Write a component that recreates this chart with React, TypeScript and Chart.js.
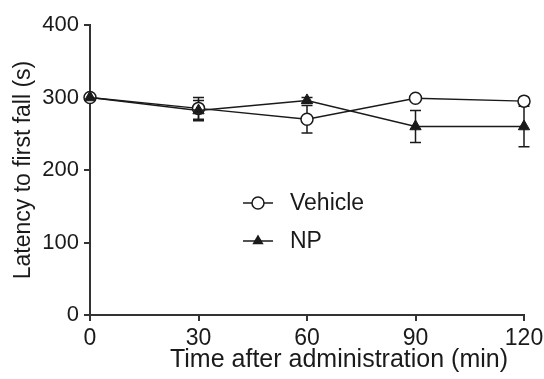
import React, { useEffect, useRef } from "react";
import { Chart, registerables } from "chart.js";

Chart.register(...registerables);

const times = [0, 30, 60, 90, 120];
const vehicleMean = [300, 285, 270, 299, 295];
const vehicleErr = [0, 15, 19, 3, 2];
const npMean = [300, 282, 296, 260, 260];
const npErr = [0, 14, 4, 22, 28];
const xTicks = [0, 30, 60, 90, 120];
const yTicks = [0, 100, 200, 300, 400];
const xTitle = "Time after administration (min)";
const yTitle = "Latency to first fall (s)";
const legendLabels = ["Vehicle", "NP"];

const FONT = "'Liberation Sans', Arial, sans-serif";
const INK = "#1a1a1a";
const AXIS = "#333333";

const errorBarPlugin = {
  id: "errorBars",
  beforeDatasetsDraw(chart: any) {
    const ctx = chart.ctx;
    const xs = chart.scales.x;
    const ys = chart.scales.y;
    ctx.save();
    ctx.strokeStyle = INK;
    ctx.lineWidth = 1.5;
    chart.data.datasets.forEach((ds: any) => {
      const errs: number[] = ds.errors || [];
      ds.data.forEach((pt: any, i: number) => {
        const e = errs[i] || 0;
        if (!e) return;
        const x = xs.getPixelForValue(pt.x);
        const yTop = ys.getPixelForValue(pt.y + e);
        const yBot = ys.getPixelForValue(pt.y - e);
        ctx.beginPath();
        ctx.moveTo(x, yTop);
        ctx.lineTo(x, yBot);
        ctx.moveTo(x - 5.5, yTop);
        ctx.lineTo(x + 5.5, yTop);
        ctx.moveTo(x - 5.5, yBot);
        ctx.lineTo(x + 5.5, yBot);
        ctx.stroke();
      });
    });
    ctx.restore();
  },
};

const xTitlePlugin = {
  id: "xTitle",
  afterDraw(chart: any) {
    const ctx = chart.ctx;
    ctx.save();
    ctx.fillStyle = INK;
    ctx.font = `25px ${FONT}`;
    ctx.textAlign = "center";
    ctx.textBaseline = "middle";
    ctx.fillText(xTitle, 339, 360);
    ctx.restore();
  },
};

const legendPlugin = {
  id: "inlineLegend",
  afterDraw(chart: any) {
    const ctx = chart.ctx;
    ctx.save();
    const rows = [
      { y: 203, style: "circle" },
      { y: 241, style: "triangle" },
    ];
    rows.forEach((r, i) => {
      ctx.strokeStyle = INK;
      ctx.lineWidth = 1.5;
      ctx.beginPath();
      ctx.moveTo(243, r.y);
      ctx.lineTo(273, r.y);
      ctx.stroke();
      const cx = 258;
      if (r.style === "circle") {
        ctx.beginPath();
        ctx.arc(cx, r.y, 6, 0, Math.PI * 2);
        ctx.fillStyle = "#ffffff";
        ctx.fill();
        ctx.stroke();
      } else {
        const rad = 6.5;
        ctx.beginPath();
        for (let k = 0; k < 3; k++) {
          const a = (k * 2 * Math.PI) / 3;
          const px = cx + Math.sin(a) * rad;
          const py = r.y - Math.cos(a) * rad;
          if (k === 0) ctx.moveTo(px, py);
          else ctx.lineTo(px, py);
        }
        ctx.closePath();
        ctx.fillStyle = INK;
        ctx.fill();
      }
      ctx.fillStyle = INK;
      ctx.font = `23px ${FONT}`;
      ctx.textBaseline = "middle";
      ctx.textAlign = "left";
      ctx.fillText(legendLabels[i], 290, r.y + 1);
    });
    ctx.restore();
  },
};

export default function App() {
  const ref = useRef<HTMLCanvasElement | null>(null);

  useEffect(() => {
    document.body.style.margin = "0";
    const canvas = ref.current;
    if (!canvas) return;
    const chart = new Chart(canvas, {
      type: "line",
      data: {
        datasets: [
          {
            label: legendLabels[1],
            data: times.map((t, i) => ({ x: t, y: npMean[i] })),
            errors: npErr,
            borderColor: INK,
            borderWidth: 1.5,
            pointStyle: "triangle",
            pointRadius: 6.5,
            pointBackgroundColor: INK,
            pointBorderColor: INK,
            pointBorderWidth: 1,
            tension: 0,
            fill: false,
            clip: false,
          } as any,
          {
            label: legendLabels[0],
            data: times.map((t, i) => ({ x: t, y: vehicleMean[i] })),
            errors: vehicleErr,
            borderColor: INK,
            borderWidth: 1.5,
            pointStyle: "circle",
            pointRadius: 6,
            pointBackgroundColor: "#ffffff",
            pointBorderColor: INK,
            pointBorderWidth: 1.5,
            tension: 0,
            fill: false,
            clip: false,
          } as any,
        ],
      },
      options: {
        animation: false,
        responsive: false,
        maintainAspectRatio: false,
        layout: { padding: { left: 0, top: 25, right: 20, bottom: 0 } },
        plugins: {
          legend: { display: false },
          tooltip: { enabled: false },
        },
        scales: {
          x: {
            type: "linear",
            min: 0,
            max: 120,
            afterBuildTicks: (s: any) => {
              s.ticks = xTicks.map((v) => ({ value: v }));
            },
            afterFit: (s: any) => {
              s.height = 64;
              s.paddingLeft = 0;
              s.paddingRight = 0;
            },
            ticks: {
              color: INK,
              font: { family: FONT, size: 23 },
              padding: 4,
              maxRotation: 0,
              autoSkip: false,
            },
            grid: {
              drawOnChartArea: false,
              drawTicks: true,
              tickLength: 6,
              color: AXIS,
              lineWidth: 2,
            },
            border: { display: true, color: AXIS, width: 2 },
            title: { display: false },
          },
          y: {
            type: "linear",
            min: 0,
            max: 400,
            afterBuildTicks: (s: any) => {
              s.ticks = yTicks.map((v) => ({ value: v }));
            },
            afterFit: (s: any) => {
              s.width = 90;
              s.paddingTop = 0;
              s.paddingBottom = 0;
            },
            ticks: {
              color: INK,
              font: { family: FONT, size: 22 },
              padding: 5,
              autoSkip: false,
            },
            grid: {
              drawOnChartArea: false,
              drawTicks: true,
              tickLength: 6,
              color: AXIS,
              lineWidth: 2,
            },
            border: { display: true, color: AXIS, width: 2 },
            title: {
              display: true,
              text: yTitle,
              color: INK,
              font: { family: FONT, size: 23 },
              padding: { top: 10, bottom: 0 },
            },
          },
        },
      } as any,
      plugins: [errorBarPlugin, legendPlugin, xTitlePlugin],
    });
    return () => chart.destroy();
  }, []);

  return (
    <div style={{ width: 544, height: 379 }}>
      <canvas ref={ref} width={544} height={379} style={{ display: "block" }} />
    </div>
  );
}
